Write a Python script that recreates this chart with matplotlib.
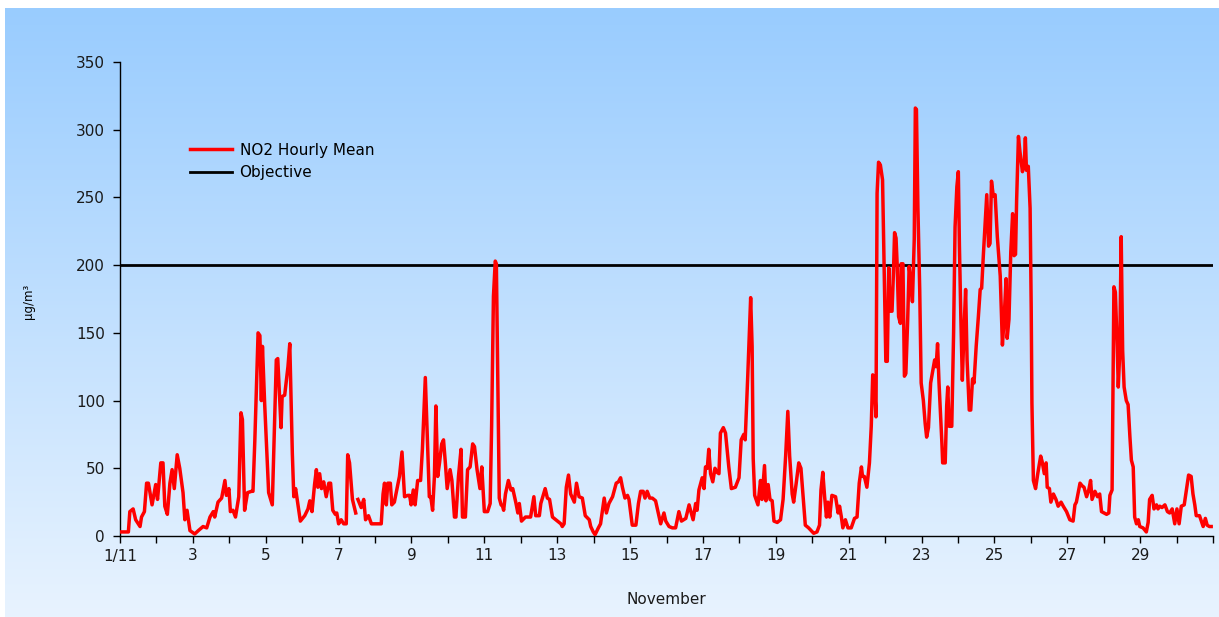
import numpy as np
import matplotlib.pyplot as plt
from matplotlib.colors import LinearSegmentedColormap

plt.rcParams['font.family'] = ['DejaVu Sans']

# NO2 hourly mean, November (day 1.0 = 1 Nov 00:00)
days = [
    1.00, 1.23, 1.27, 1.36, 1.43, 1.55, 1.59, 1.67, 1.73, 1.78, 1.88, 1.98, 2.03, 2.12, 2.18,
    2.23, 2.30, 2.37, 2.43, 2.49, 2.57, 2.64, 2.73, 2.78, 2.84, 2.92, 3.05, 3.15, 3.28, 3.38,
    3.47, 3.56, 3.60, 3.69, 3.79, 3.88, 3.92, 3.99, 4.03, 4.10, 4.17, 4.26, 4.32, 4.36, 4.42,
    4.50, 4.61, 4.65, 4.70, 4.79, 4.84, 4.88, 4.91, 4.97, 5.08, 5.18, 5.29, 5.33, 5.42, 5.45,
    5.52, 5.61, 5.66, 5.73, 5.77, 5.82, 5.95, 6.07, 6.16, 6.21, 6.27, 6.34, 6.39, 6.43, 6.48,
    6.53, 6.59, 6.66, 6.73, 6.78, 6.84, 6.91, 6.95, 7.00, 7.07, 7.14, 7.21, 7.25, 7.30, 7.38,
    7.47, 7.50, 7.53, 7.62, 7.69, 7.74, 7.82, 7.90, 8.03, 8.17, 8.22,
    8.26, 8.31, 8.35, 8.42, 8.46, 8.53, 8.61, 8.67, 8.74, 8.81, 8.90, 8.95, 8.99, 9.05, 9.10,
    9.17, 9.25, 9.30, 9.38, 9.44, 9.49, 9.53, 9.58, 9.63, 9.67, 9.72, 9.77, 9.83, 9.88, 9.93,
    9.98, 10.06, 10.11, 10.18, 10.22, 10.29, 10.36, 10.40, 10.48, 10.54, 10.61, 10.68, 10.73,
    10.80, 10.88, 10.93, 11.00, 11.09, 11.16, 11.20, 11.25, 11.30, 11.33, 11.36, 11.41, 11.46,
    11.50, 11.53, 11.58, 11.66, 11.73, 11.78, 11.87, 11.92, 11.96, 12.02,
    12.13, 12.27, 12.36, 12.41, 12.51, 12.55, 12.67, 12.73, 12.79, 12.87, 13.01, 13.10, 13.14,
    13.19, 13.25, 13.31, 13.37, 13.47, 13.53, 13.60, 13.69, 13.77, 13.88, 13.92, 13.99, 14.04,
    14.13, 14.19, 14.29, 14.35, 14.42, 14.52, 14.62, 14.68, 14.74, 14.79, 14.86, 14.93, 14.97,
    15.06, 15.16, 15.23, 15.29, 15.36, 15.41, 15.47, 15.54, 15.61, 15.70, 15.79,
    15.84, 15.93, 15.98, 16.07, 16.16, 16.25, 16.34, 16.41, 16.53, 16.62, 16.66, 16.73, 16.80,
    16.84, 16.89, 16.98, 17.03, 17.07, 17.12, 17.16, 17.21, 17.27, 17.33, 17.39, 17.44, 17.48,
    17.56, 17.62, 17.71, 17.78, 17.89, 17.99, 18.05, 18.12, 18.16, 18.23, 18.31, 18.35, 18.38,
    18.42, 18.51, 18.58, 18.62, 18.69, 18.73, 18.79, 18.84, 18.90, 18.95, 19.04, 19.13, 19.20,
    19.27, 19.33, 19.38, 19.45,
    19.49, 19.56, 19.63, 19.69, 19.77, 19.81, 19.90, 20.04, 20.13, 20.20, 20.24, 20.29, 20.34,
    20.39, 20.43, 20.48, 20.54, 20.64, 20.71, 20.75, 20.80, 20.84, 20.91, 20.98, 21.07, 21.16,
    21.23, 21.29, 21.35, 21.38, 21.43, 21.50, 21.57, 21.62, 21.66, 21.70, 21.75, 21.78, 21.82,
    21.87, 21.93, 21.98, 22.02, 22.06, 22.10, 22.14, 22.19, 22.23, 22.26, 22.30, 22.33, 22.37,
    22.42, 22.44, 22.49, 22.53, 22.57, 22.62, 22.66, 22.71, 22.75, 22.80, 22.83, 22.86, 22.90,
    22.95, 22.99, 23.05, 23.10,
    23.14, 23.19, 23.25, 23.36, 23.40, 23.44, 23.48, 23.56, 23.58, 23.65, 23.69, 23.72, 23.76,
    23.83, 23.88, 23.92, 23.97, 24.01, 24.04, 24.08, 24.12, 24.17, 24.21, 24.25, 24.31, 24.35,
    24.40, 24.44, 24.50, 24.56, 24.61, 24.65, 24.70, 24.74, 24.79, 24.84, 24.88, 24.92, 24.97,
    25.02, 25.08, 25.16, 25.22, 25.27, 25.32, 25.35, 25.40, 25.45, 25.50, 25.54, 25.58, 25.61,
    25.66, 25.70, 25.77, 25.82, 25.85, 25.88, 25.93, 25.98, 26.01, 26.03, 26.07, 26.13, 26.19,
    26.27, 26.31, 26.37, 26.42, 26.45, 26.51, 26.55, 26.62, 26.69, 26.75, 26.83,
    26.89, 26.98, 27.07, 27.16, 27.21, 27.25, 27.35, 27.41, 27.46, 27.53, 27.59, 27.64, 27.68,
    27.76, 27.83, 27.89, 27.94, 28.08, 28.14, 28.17, 28.23, 28.28, 28.32, 28.37, 28.40, 28.44,
    28.48, 28.52, 28.56, 28.62, 28.67, 28.72, 28.76, 28.81, 28.85, 28.90, 28.95, 28.99, 29.08,
    29.17, 29.22, 29.26, 29.33, 29.38, 29.45, 29.49, 29.54, 29.60, 29.68, 29.75, 29.81, 29.88,
    29.95, 30.01, 30.07, 30.13, 30.21, 30.27, 30.33, 30.40, 30.45, 30.50, 30.54, 30.63, 30.68,
    30.73, 30.79, 30.84, 30.90, 30.95,
]
no2 = [
    3, 3, 18, 20, 12, 7, 14, 18, 39, 39, 23, 38, 27, 54, 54,
    22, 16, 39, 49, 35, 60, 50, 32, 12, 19, 4, 1.5, 4, 7, 6,
    14, 18, 14, 25, 28, 41, 30, 35, 18, 19, 14, 29, 91, 86, 19,
    32, 33, 33, 70, 150, 148, 100, 140, 98, 32, 23, 130, 131, 80, 103,
    104, 125, 142, 61, 29, 35, 11, 15, 20, 26, 18, 38, 49, 36, 46,
    35, 40, 29, 39, 39, 19, 16, 17, 9, 12, 9, 9, 60, 54, 27,
    17, np.nan, 27, 21, 27, 12, 15, 9, 9, 9, 31,
    39, 23, 39, 39, 23, 25, 36, 44, 62, 29, 30, 30, 23, 34, 23,
    41, 41, 64, 117, 68, 29, 29, 19, 44, 96, 44, 54, 68, 71, 54,
    35, 49, 41, 14, 14, 44, 64, 14, 14, 49, 51, 68, 66,
    49, 35, 51, 18, 18, 24, 81, 177, 203, 201, 137, 28, 23,
    22, 19, 31, 41, 34, 35, 24, 17, 24, 11,
    14, 14, 29, 15, 15, 24, 35, 28, 27, 14, 11, 9, 7,
    9, 36, 45, 31, 25, 39, 29, 28, 15, 12, 7, 3, 1,
    6, 9, 28, 17, 24, 29, 39, 40, 43, 36, 28, 30, 27,
    8, 8, 24, 33, 33, 28, 33, 28, 28, 26, 15,
    9, 17, 11, 7, 6, 6, 18, 11, 13, 23, 19, 12, 24,
    19, 34, 43, 35, 51, 50, 64, 46, 40, 50, 47, 46, 76,
    80, 76, 51, 35, 36, 43, 71, 75, 71, 118, 176, 140, 57,
    30, 23, 41, 27, 52, 26, 38, 27, 26, 11, 10, 12, 27,
    59, 92, 59, 31,
    25, 39, 54, 50, 22, 8, 6, 2, 3, 8, 34, 47, 29,
    14, 25, 14, 30, 29, 17, 22, 14, 6, 12, 6, 6, 13,
    14, 39, 51, 44, 44, 36, 54, 81, 119, 117, 88, 253, 276,
    274, 263, 187, 129, 129, 198, 166, 166, 195, 224, 220, 201, 162,
    157, 201, 201, 118, 120, 160, 199, 187, 173, 219, 316, 315, 243,
    182, 113, 100, 83,
    73, 80, 113, 130, 125, 142, 113, 68, 54, 54, 96, 110, 81,
    81, 150, 228, 258, 269, 214, 160, 115, 155, 182, 130, 93, 93,
    116, 113, 140, 162, 182, 183, 209, 228, 252, 214, 216, 262, 251,
    252, 221, 192, 141, 162, 190, 146, 160, 210, 238, 207, 208, 248,
    295, 284, 269, 275, 294, 270, 273, 242, 169, 98, 41, 35, 46,
    59, 55, 46, 54, 36, 35, 25, 31, 27, 22, 25,
    22, 18, 12, 11, 23, 25, 39, 37, 36, 29, 34, 41, 27,
    33, 29, 31, 18, 16, 17, 30, 34, 184, 180, 140, 110, 135,
    221, 137, 110, 100, 97, 73, 56, 51, 14, 9, 12, 7, 6,
    3, 10, 27, 30, 20, 23, 20, 22, 21, 23, 18, 17, 20,
    9, 20, 9, 22, 23, 34, 45, 44, 31, 23, 15, 15, 11,
    7, 13, 8, 7, 7,
]
objective = 200
tick_days = list(range(1, 32))
tick_labels = ['1/11' if d == 1 else (str(d) if d % 2 == 1 and d < 30 else '') for d in tick_days]

fig = plt.figure(figsize=(12.19, 6.17), dpi=100, facecolor='white')

# gradient background panel
bg = fig.add_axes([5 / 1219, 0, 1 - 5 / 1219, 1 - 8 / 617], zorder=-1)
cmap = LinearSegmentedColormap.from_list('bg', ['#E8F3FE', '#99CCFF'])
grad = np.linspace(0, 1, 256).reshape(-1, 1)
bg.imshow(grad, aspect='auto', cmap=cmap, origin='lower', extent=[0, 1, 0, 1])
bg.axis('off')

ax = fig.add_axes([120 / 1219, 1 - 536 / 617, 1093 / 1219, 474 / 617])
ax.patch.set_alpha(0)

ax.plot(days, no2, color='#FF0000', linewidth=2.5, label='NO2 Hourly Mean', zorder=3)
ax.plot([1, 31], [objective, objective], color='black', linewidth=2.0, label='Objective', zorder=2)

ax.set_xlim(1, 31)
ax.set_ylim(0, 350)
ax.set_yticks(range(0, 351, 50))
ax.set_xticks(tick_days)
ax.set_xticklabels(tick_labels)

for s in ['top', 'right']:
    ax.spines[s].set_visible(False)
for s in ['left', 'bottom']:
    ax.spines[s].set_linewidth(1.0)
ax.tick_params(axis='both', direction='out', length=5, width=1, labelsize=11, colors='black',
               labelcolor='#1a1a1a')
ax.tick_params(axis='y', pad=6)
ax.tick_params(axis='x', pad=4)

fig.text(666 / 1219, 1 - 600 / 617, 'November', fontsize=11, ha='center', va='center',
         color='#1a1a1a')
fig.text(28 / 1219, 1 - 301 / 617, 'µg/m³', rotation=90, fontsize=8.5, ha='center', va='center')

ax.legend(loc='upper left', bbox_to_anchor=(0.064, 0.83), frameon=False, fontsize=11,
          handlelength=2.75, handletextpad=0.5, labelspacing=0.5, borderpad=0, borderaxespad=0)

plt.savefig('out.png', dpi=100, facecolor='white')
